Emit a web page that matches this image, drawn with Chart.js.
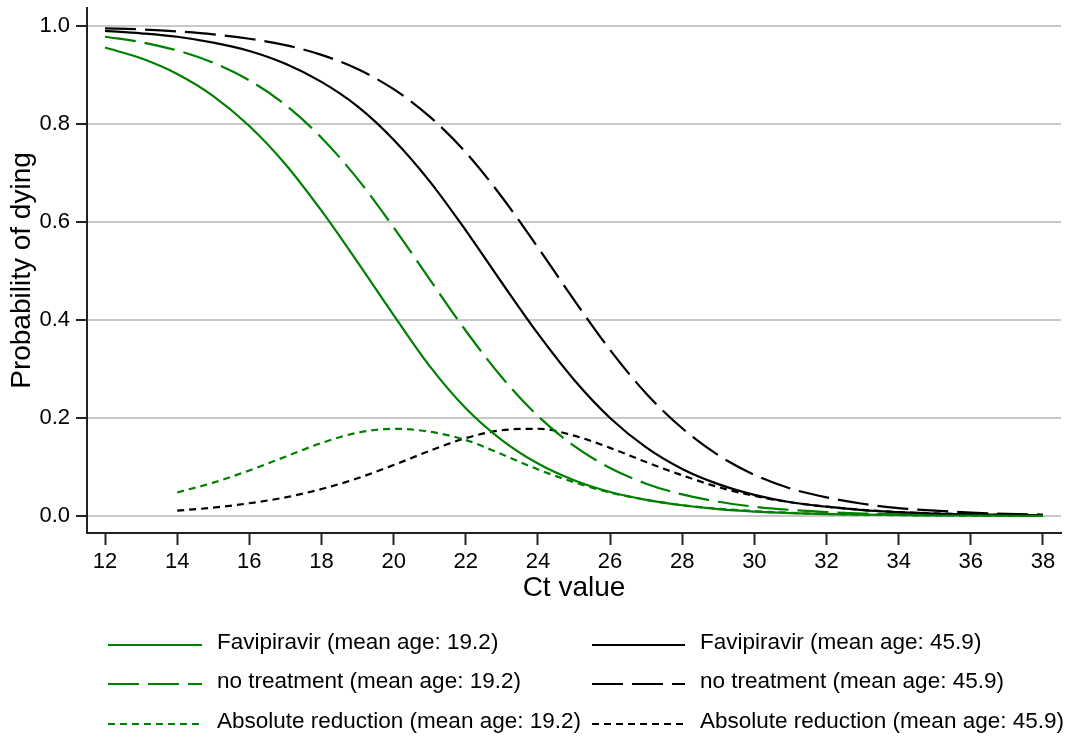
<!DOCTYPE html>
<html>
<head>
<meta charset="utf-8">
<script src="https://cdn.jsdelivr.net/npm/chart.js@4.4.1/dist/chart.umd.min.js"></script>
<style>
  html, body { margin: 0; padding: 0; background: #fff; }
  #wrap { width: 1067px; height: 742px; position: relative; }
</style>
</head>
<body>
<div id="wrap"><canvas id="c" width="1067" height="742"></canvas></div>
<script>
// ---- data ----
const ctValues = [12,13,14,15,16,17,18,19,20,21,22,23,24,25,26,27,28,29,30,31,32,33,34,35,36,37,38];
const favi19    = [0.956,0.934,0.902,0.857,0.796,0.718,0.623,0.518,0.410,0.306,0.220,0.155,0.107,0.073,0.049,0.033,0.022,0.014,0.009,0.006,0.004,0.003,0.002,0.001,0.001,0.0005,0.0003];
const notreat19 = [0.978,0.967,0.950,0.925,0.889,0.839,0.772,0.688,0.589,0.483,0.378,0.283,0.204,0.143,0.098,0.066,0.044,0.029,0.019,0.0125,0.008,0.005,0.0035,0.0023,0.0015,0.001,0.0006];
const reduct19  = [null,null,0.048,0.068,0.093,0.121,0.149,0.170,0.178,0.172,0.155,0.126,0.095,0.069,0.048,0.033,0.022,0.015,0.010,0.0064,0.0042,0.0027,0.0018,0.0012,0.0008,0.0005,0.0003];
const favi46    = [0.990,0.985,0.978,0.966,0.949,0.923,0.886,0.836,0.768,0.683,0.583,0.476,0.372,0.278,0.200,0.140,0.096,0.065,0.043,0.028,0.019,0.012,0.008,0.005,0.0034,0.0022,0.0014];
const notreat46 = [0.995,0.993,0.989,0.983,0.974,0.961,0.941,0.912,0.871,0.815,0.742,0.651,0.548,0.441,0.339,0.250,0.179,0.124,0.084,0.056,0.038,0.025,0.016,0.011,0.007,0.0045,0.0029];
const reduct46  = [null,null,0.011,0.017,0.026,0.038,0.055,0.077,0.104,0.133,0.159,0.175,0.178,0.164,0.139,0.110,0.083,0.059,0.041,0.028,0.019,0.0125,0.008,0.0054,0.0035,0.0023,0.0015];

const xTickValues = [12,14,16,18,20,22,24,26,28,30,32,34,36,38];
const xTickLabels = ["12","14","16","18","20","22","24","26","28","30","32","34","36","38"];
const yTickValues = [0, 0.2, 0.4, 0.6, 0.8, 1.0];
const yTickLabels = ["0.0","0.2","0.4","0.6","0.8","1.0"];

const seriesLabels = [
  "Favipiravir (mean age: 19.2)",
  "Favipiravir (mean age: 45.9)",
  "no treatment (mean age: 19.2)",
  "no treatment (mean age: 45.9)",
  "Absolute reduction (mean age: 19.2)",
  "Absolute reduction (mean age: 45.9)"
];

// ---- styling ----
const GREEN = '#008000';
const BLACK = '#000000';
const LONG = [31, 9];
const SHORT = [7, 5];
const FONT = "'Liberation Sans', Arial, Helvetica, sans-serif";

function pts(arr) {
  const out = [];
  ctValues.forEach((x, i) => { if (arr[i] !== null) out.push({x: x, y: arr[i]}); });
  return out;
}

function ds(label, arr, color, dash) {
  return {
    label: label,
    data: pts(arr),
    borderColor: color,
    backgroundColor: color,
    borderWidth: 2.2,
    borderDash: dash,
    pointRadius: 0,
    pointHoverRadius: 0,
    fill: false,
    cubicInterpolationMode: 'monotone'
  };
}

const datasets = [
  ds(seriesLabels[0], favi19, GREEN, []),
  ds(seriesLabels[1], favi46, BLACK, []),
  ds(seriesLabels[2], notreat19, GREEN, LONG),
  ds(seriesLabels[3], notreat46, BLACK, LONG),
  ds(seriesLabels[4], reduct19, GREEN, SHORT),
  ds(seriesLabels[5], reduct46, BLACK, SHORT)
];

// custom 2-column legend below the plot
const legendPlugin = {
  id: 'gridLegend',
  afterDraw(chart) {
    const ctx = chart.ctx;
    const cols = [{x1: 108, x2: 202, tx: 217}, {x1: 592, x2: 685, tx: 700}];
    const rows = [645, 684, 724];
    ctx.save();
    chart.data.datasets.forEach((d, i) => {
      const c = cols[i % 2];
      const y = rows[Math.floor(i / 2)];
      ctx.beginPath();
      ctx.strokeStyle = d.borderColor;
      ctx.lineWidth = 2.2;
      ctx.setLineDash(d.borderDash || []);
      ctx.moveTo(c.x1, y);
      ctx.lineTo(c.x2, y);
      ctx.stroke();
      ctx.setLineDash([]);
      ctx.fillStyle = '#000';
      ctx.font = "22.5px " + FONT;
      ctx.textAlign = 'left';
      ctx.textBaseline = 'middle';
      ctx.fillText(d.label, c.tx, y - 2);
    });
    ctx.restore();
  }
};

new Chart(document.getElementById('c'), {
  type: 'line',
  data: { datasets: datasets },
  options: {
    responsive: false,
    animation: false,
    events: [],
    layout: { padding: { left: 0, right: 6, top: 8, bottom: 137 } },
    plugins: { legend: { display: false }, tooltip: { enabled: false } },
    scales: {
      x: {
        type: 'linear',
        min: 11.5,
        max: 38.5,
        afterFit(scale) { scale.height = 72; scale.paddingLeft = 0; scale.paddingRight = 0; },
        afterBuildTicks(scale) { scale.ticks = xTickValues.map(v => ({value: v})); },
        ticks: {
          autoSkip: false,
          maxRotation: 0,
          padding: 4,
          color: '#000',
          font: { family: FONT, size: 22 },
          callback: (v) => xTickLabels[xTickValues.indexOf(v)]
        },
        grid: {
          drawOnChartArea: false,
          drawTicks: true,
          tickLength: 12,
          tickColor: '#222',
          tickWidth: 2
        },
        border: { display: true, color: '#222', width: 2 },
        title: {
          display: true,
          text: 'Ct value',
          color: '#000',
          font: { family: FONT, size: 28 },
          padding: { top: 0, bottom: 0 }
        }
      },
      y: {
        type: 'linear',
        min: -0.0347,
        max: 1.0367,
        afterFit(scale) { scale.width = 87; scale.paddingTop = 0; scale.paddingBottom = 0; },
        afterBuildTicks(scale) { scale.ticks = yTickValues.map(v => ({value: v})); },
        ticks: {
          autoSkip: false,
          padding: 6,
          color: '#000',
          font: { family: FONT, size: 22 },
          callback: (v) => {
            const i = yTickValues.findIndex(t => Math.abs(t - v) < 1e-9);
            return i >= 0 ? yTickLabels[i] : '';
          }
        },
        grid: {
          drawOnChartArea: true,
          color: '#c8c8c8',
          lineWidth: 2,
          drawTicks: true,
          tickLength: 11,
          tickColor: '#222',
          tickWidth: 2
        },
        border: { display: true, color: '#222', width: 2 },
        title: {
          display: true,
          text: 'Probability of dying',
          color: '#000',
          font: { family: FONT, size: 28 },
          padding: { top: 5, bottom: 0 }
        }
      }
    }
  },
  plugins: [legendPlugin]
});
</script>
</body>
</html>
